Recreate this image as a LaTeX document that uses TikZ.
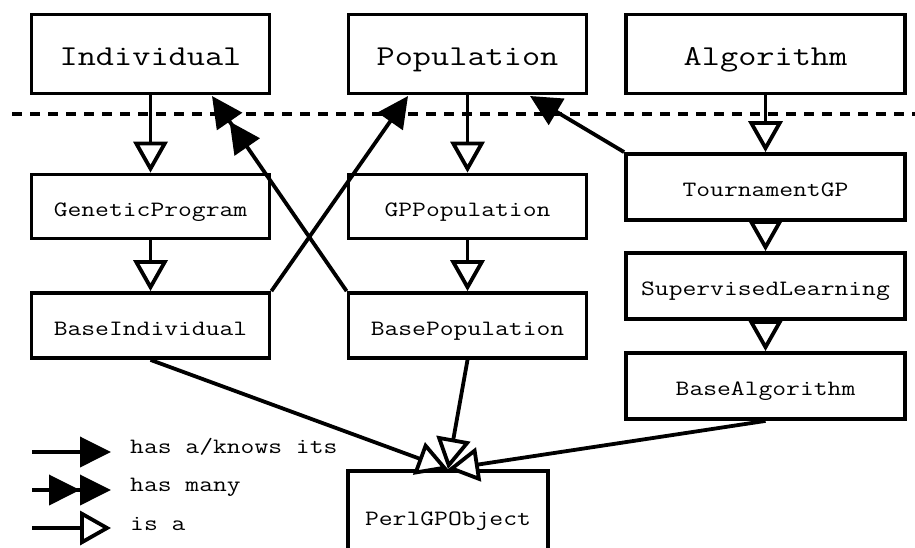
\documentclass[tikz,border=0pt]{standalone}
\usepackage{fontspec}
\setmonofont[FakeStretch=1.225]{Latin Modern Mono}
\usetikzlibrary{arrows.meta}
\tikzset{
  box/.style={draw, line width=3.8pt, rectangle, inner sep=0pt, text height=19.4pt, text depth=0pt, font=\ttfamily\fontsize{21.9}{24}\selectfont},
  bigbox/.style={box, text height=23.6pt, font=\ttfamily\fontsize{28.8}{32}\selectfont},
  conn/.style={line width=3.8pt},
  isa/.style={conn, -{Triangle[open, fill=white, length=31pt, width=34pt, line width=3.8pt]}},
  hasa/.style={conn, -{Triangle[length=31pt, width=30pt]}},
  hasmany/.style={conn, -{Triangle[length=31pt, width=30pt]Triangle[length=31pt, width=30pt]}},
  legtext/.style={anchor=base west, inner sep=0pt, font=\ttfamily\fontsize{21.9}{24}\selectfont},
}
\begin{document}
\begin{tikzpicture}[x=1pt, y=-1pt]
\useasboundingbox (0,0) rectangle (915,547);
% top row
\node[bigbox, minimum width=238pt, minimum height=79pt] (ind) at (150.5,54) {Individual};
\node[bigbox, minimum width=238pt, minimum height=79pt] (pop) at (467.5,54) {Population};
\node[bigbox, minimum width=279pt, minimum height=79pt] (alg) at (765.5,54) {Algorithm};
% dashed line
\coordinate (dl) at (12,114);
\coordinate (dr) at (915,114);
\draw[line width=3.8pt, dash pattern=on 10pt off 8pt] (dl) -- (dr);
% second row
\node[box, minimum width=238pt, minimum height=64pt] (gp) at (150.5,206.5) {GeneticProgram};
\node[box, minimum width=238pt, minimum height=64pt] (gpp) at (467.5,206.5) {GPPopulation};
\node[box, minimum width=279pt, minimum height=66pt] (tgp) at (765.5,187) {TournamentGP};
\node[box, minimum width=279pt, minimum height=66pt] (sl) at (765.5,286) {SupervisedLearning};
\node[box, minimum width=279pt, minimum height=66pt] (ba) at (765.5,386) {BaseAlgorithm};
\node[box, minimum width=238pt, minimum height=65pt] (bi) at (150.5,325.5) {BaseIndividual};
\node[box, minimum width=238pt, minimum height=65pt] (bp) at (467.5,325.5) {BasePopulation};
\node[box, minimum width=200pt, minimum height=90pt] (pgo) at (448,516) {PerlGPObject};
% is-a arrows
\draw[isa] (ind.south) -- (gp.north);
\draw[isa] (pop.south) -- (gpp.north);
\draw[isa] (alg.south) -- (tgp.north);
\draw[isa] (gp.south) -- (bi.north);
\draw[isa] (gpp.south) -- (bp.north);
\draw[isa] (tgp.south) -- (sl.north);
\draw[isa] (sl.south) -- (ba.north);
\draw[isa] (bi.south) -- (pgo.north);
\draw[isa] (bp.south) -- (pgo.north);
\draw[isa] (ba.south) -- (pgo.north);
% has-a arrows
\coordinate (popin1) at (408,96);
\coordinate (popin2) at (530,96);
\coordinate (indin) at (212,96);
\draw[hasa] (bi.north east) -- (popin1);
\draw[hasa] (tgp.north west) -- (popin2);
\draw[hasmany] (bp.north west) -- (indin);
% legend
\coordinate (l1a) at (32,452); \coordinate (l1b) at (111,452);
\coordinate (l2a) at (32,490); \coordinate (l2b) at (111,490);
\coordinate (l3a) at (32,528); \coordinate (l3b) at (111,528);
\draw[hasa] (l1a) -- (l1b);
\draw[hasmany] (l2a) -- (l2b);
\draw[isa] (l3a) -- (l3b);
\node[legtext] (t1) at (130,453) {has a/knows its};
\node[legtext] (t2) at (130,491) {has many};
\node[legtext] (t3) at (130,530) {is a};
\end{tikzpicture}
\end{document}
